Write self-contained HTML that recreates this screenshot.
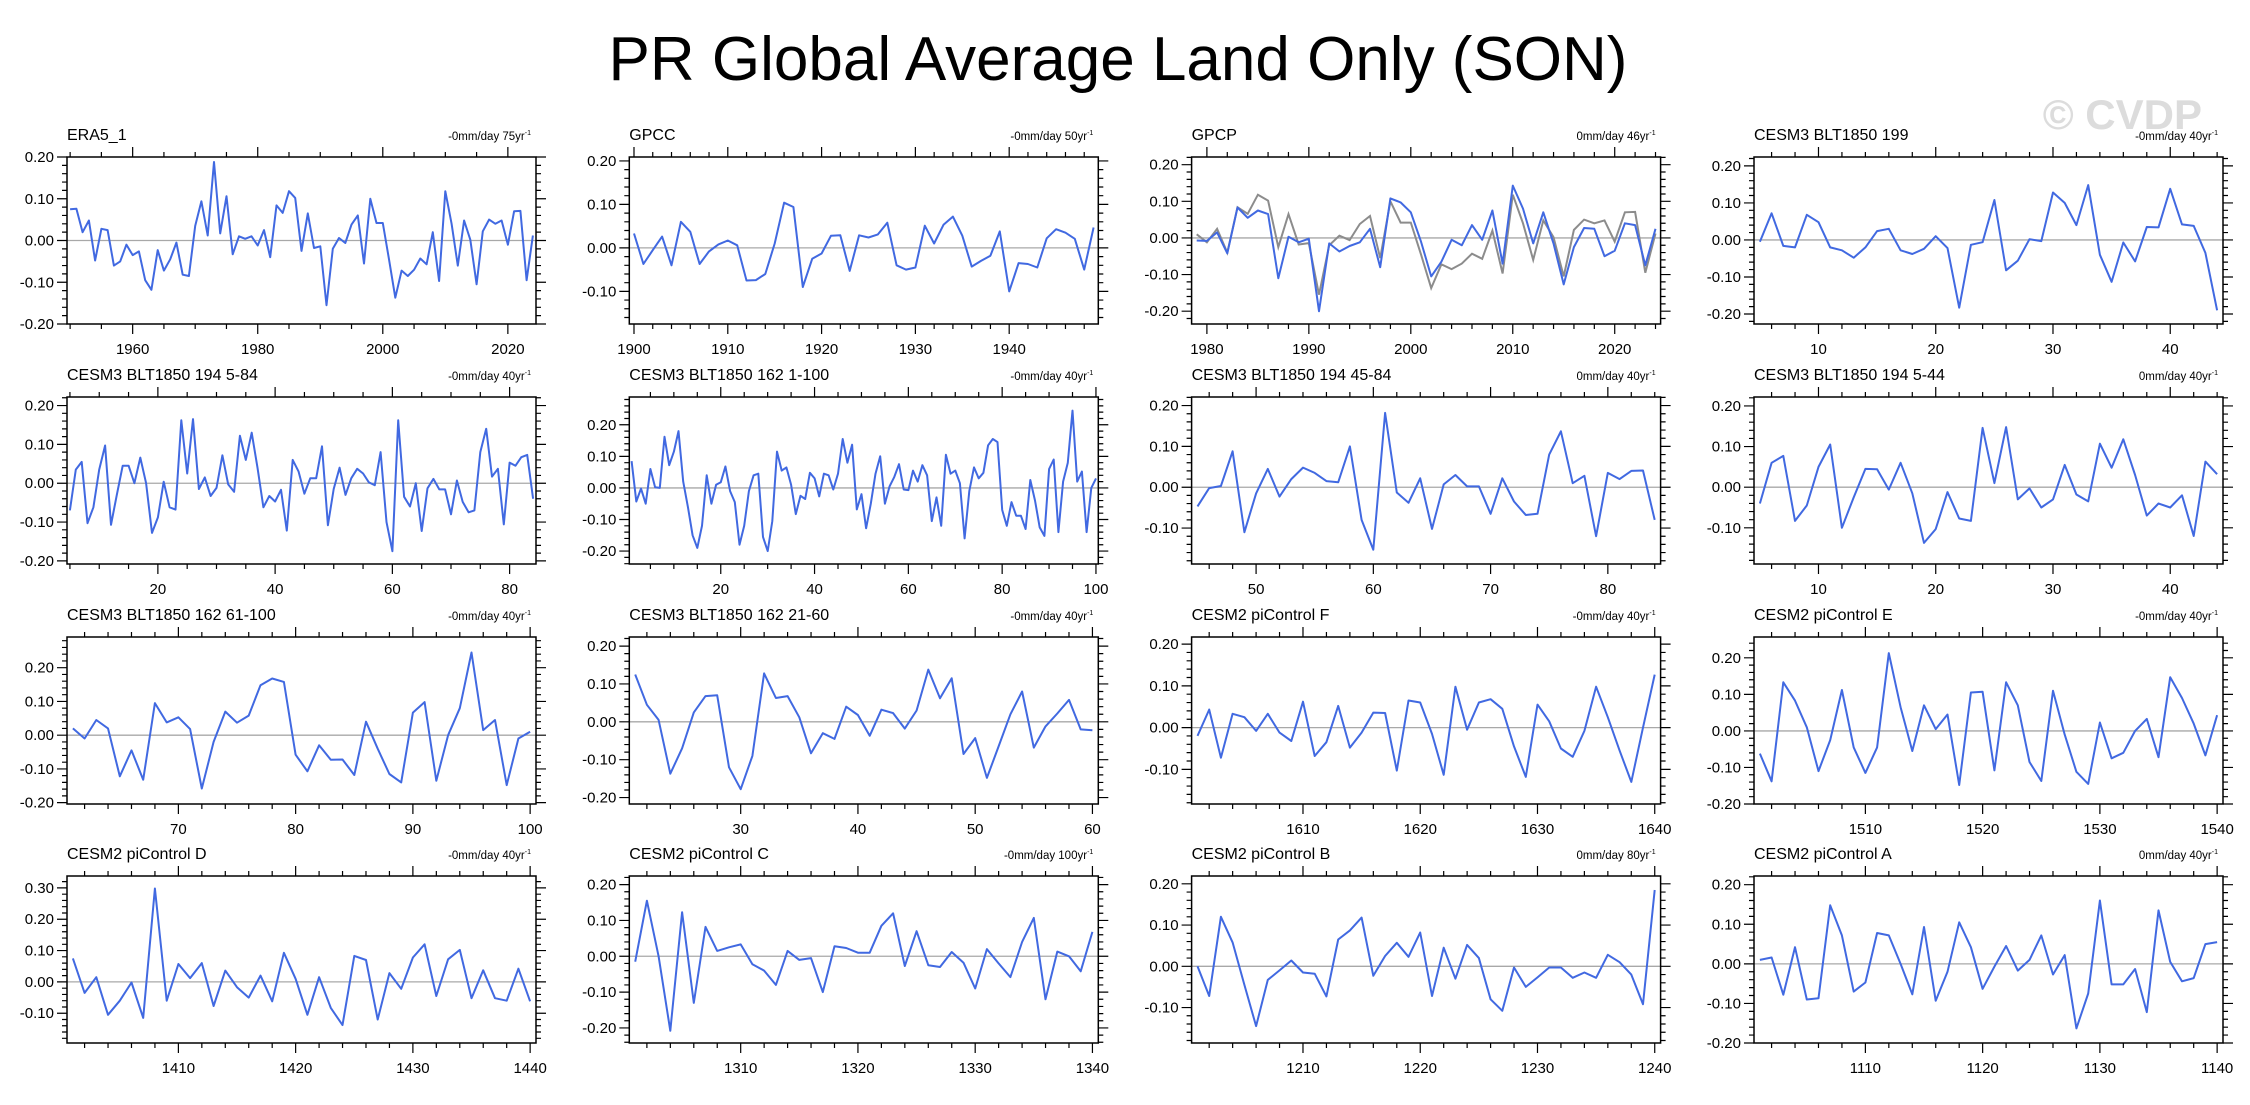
<!DOCTYPE html>
<html><head><meta charset="utf-8">
<style>
html,body{margin:0;padding:0;background:#fff;}
svg{display:block;font-family:"Liberation Sans",Arial,sans-serif;}
</style></head>
<body>
<svg id="chart" width="2250" height="1105" viewBox="0 0 2250 1105" xmlns="http://www.w3.org/2000/svg">
<rect x="0" y="0" width="2250" height="1105" fill="#fff"/>
<text x="1118" y="80" font-size="62" text-anchor="middle" fill="#000">PR Global Average Land Only (SON)</text>
<text x="2202" y="129" font-size="42" font-weight="bold" text-anchor="end" fill="#dcdcdc">© CVDP</text>
<g id="panels"></g>
</svg>
<script>
const era5Values=[0.075,0.076,0.02,0.048,-0.048,0.028,0.025,-0.06,-0.05,-0.01,-0.035,-0.026,-0.095,-0.118,-0.023,-0.072,-0.045,-0.005,-0.082,-0.085,0.035,0.094,0.012,0.188,0.017,0.106,-0.033,0.01,0.004,0.01,-0.012,0.025,-0.04,0.084,0.066,0.118,0.102,-0.025,0.065,-0.018,-0.014,-0.155,-0.02,0.006,-0.006,0.038,0.06,-0.055,0.1,0.042,0.042,-0.045,-0.137,-0.072,-0.085,-0.07,-0.043,-0.057,0.02,-0.097,0.118,0.04,-0.06,0.048,0.002,-0.105,0.022,0.05,0.04,0.048,-0.01,0.07,0.071,-0.095,0.012];
const gpccValues=[0.033,-0.037,-0.005,0.026,-0.04,0.06,0.037,-0.037,-0.008,0.008,0.017,0.006,-0.075,-0.074,-0.06,0.01,0.104,0.094,-0.09,-0.025,-0.013,0.028,0.029,-0.053,0.029,0.024,0.031,0.058,-0.04,-0.05,-0.045,0.051,0.01,0.053,0.072,0.028,-0.043,-0.03,-0.018,0.038,-0.1,-0.035,-0.037,-0.045,0.022,0.043,0.035,0.021,-0.05,0.047];
const gpcpValues=[-0.007,-0.008,0.015,-0.042,0.083,0.055,0.075,0.065,-0.11,0.003,-0.012,-0.002,-0.2,-0.015,-0.037,-0.022,-0.012,0.025,-0.08,0.108,0.097,0.07,-0.01,-0.105,-0.065,-0.005,-0.02,0.035,-0.005,0.075,-0.07,0.143,0.08,-0.015,0.07,-0.015,-0.127,-0.025,0.027,0.025,-0.05,-0.035,0.04,0.035,-0.075,0.025];
const blt199Values=[-0.005,0.072,-0.016,-0.02,0.068,0.048,-0.02,-0.028,-0.048,-0.02,0.024,0.03,-0.028,-0.038,-0.024,0.01,-0.022,-0.183,-0.013,-0.006,0.108,-0.082,-0.056,0.002,-0.003,0.128,0.1,0.04,0.148,-0.04,-0.113,-0.007,-0.058,0.035,0.034,0.138,0.042,0.038,-0.035,-0.19];
const blt194_5_84Values=[-0.07,0.035,0.055,-0.103,-0.062,0.035,0.097,-0.107,-0.03,0.045,0.045,0.0,0.066,0.0,-0.128,-0.088,0.004,-0.062,-0.068,0.162,0.025,0.165,-0.015,0.015,-0.033,-0.012,0.072,-0.003,-0.022,0.122,0.06,0.13,0.04,-0.062,-0.033,-0.047,-0.017,-0.122,0.06,0.03,-0.027,0.013,0.013,0.095,-0.108,-0.015,0.04,-0.03,0.013,0.037,0.025,0.002,-0.005,0.08,-0.1,-0.175,0.162,-0.035,-0.06,0.0,-0.123,-0.013,0.011,-0.016,-0.016,-0.08,0.007,-0.048,-0.075,-0.07,0.08,0.14,0.017,0.037,-0.106,0.053,0.045,0.067,0.073,-0.04];
const blt162_1_100Values=[0.085,-0.043,-0.002,-0.05,0.06,0.002,0.0,0.162,0.072,0.115,0.18,0.02,-0.06,-0.15,-0.19,-0.12,0.04,-0.05,0.01,0.018,0.068,-0.01,-0.045,-0.18,-0.12,-0.01,0.04,0.045,-0.155,-0.2,-0.105,0.115,0.055,0.065,0.01,-0.083,-0.025,-0.035,0.048,0.03,-0.027,0.045,0.04,-0.005,0.045,0.155,0.08,0.137,-0.068,-0.02,-0.128,-0.05,0.045,0.1,-0.05,0.005,0.035,0.075,-0.005,-0.007,0.055,0.02,0.072,0.04,-0.105,-0.03,-0.12,0.105,0.045,0.055,0.015,-0.16,-0.01,0.065,0.03,0.048,0.135,0.155,0.145,-0.07,-0.12,-0.045,-0.088,-0.088,-0.13,0.025,-0.04,-0.125,-0.152,0.06,0.09,-0.14,0.02,0.08,0.245,0.02,0.052,-0.14,0.0,0.03];
const blt194_45_84Values=[-0.047,-0.002,0.003,0.088,-0.11,-0.015,0.045,-0.023,0.02,0.048,0.035,0.015,0.012,0.1,-0.08,-0.153,0.182,-0.013,-0.038,0.022,-0.102,0.007,0.03,0.002,0.002,-0.065,0.022,-0.035,-0.068,-0.065,0.08,0.137,0.01,0.028,-0.12,0.035,0.02,0.04,0.041,-0.08];
const blt194_5_44Values=[-0.04,0.06,0.077,-0.083,-0.045,0.05,0.105,-0.1,-0.025,0.045,0.044,-0.006,0.06,-0.015,-0.137,-0.103,-0.012,-0.077,-0.083,0.146,0.01,0.148,-0.03,-0.003,-0.05,-0.03,0.055,-0.018,-0.035,0.107,0.048,0.118,0.03,-0.07,-0.04,-0.05,-0.02,-0.12,0.063,0.032];
const blt162_61_100Values=[0.02,-0.01,0.045,0.02,-0.122,-0.045,-0.132,0.095,0.038,0.053,0.018,-0.158,-0.02,0.07,0.037,0.058,0.148,0.168,0.158,-0.058,-0.107,-0.03,-0.073,-0.072,-0.118,0.04,-0.04,-0.115,-0.14,0.067,0.098,-0.135,0.0,0.08,0.245,0.015,0.045,-0.148,-0.01,0.01];
const blt162_21_60Values=[0.125,0.045,0.005,-0.137,-0.07,0.025,0.068,0.07,-0.12,-0.178,-0.09,0.128,0.063,0.068,0.012,-0.083,-0.03,-0.045,0.04,0.018,-0.037,0.032,0.023,-0.018,0.03,0.138,0.062,0.115,-0.085,-0.043,-0.148,-0.065,0.02,0.08,-0.068,-0.012,0.022,0.058,-0.02,-0.022];
const piFValues=[-0.02,0.043,-0.072,0.033,0.025,-0.008,0.033,-0.012,-0.032,0.062,-0.068,-0.035,0.052,-0.048,-0.012,0.036,0.035,-0.103,0.065,0.06,-0.015,-0.113,0.098,-0.005,0.06,0.068,0.045,-0.045,-0.118,0.055,0.015,-0.05,-0.07,-0.008,0.098,0.025,-0.055,-0.13,0.0,0.127];
const piEValues=[-0.062,-0.138,0.133,0.083,0.01,-0.11,-0.025,0.112,-0.045,-0.115,-0.045,0.213,0.065,-0.055,0.07,0.005,0.045,-0.148,0.105,0.107,-0.108,0.133,0.07,-0.085,-0.137,0.11,-0.01,-0.112,-0.145,0.023,-0.075,-0.06,0.0,0.033,-0.072,0.147,0.09,0.02,-0.067,0.043];
const piDValues=[0.075,-0.035,0.015,-0.105,-0.06,-0.002,-0.115,0.298,-0.06,0.057,0.012,0.06,-0.077,0.036,-0.017,-0.05,0.02,-0.062,0.093,0.01,-0.105,0.015,-0.083,-0.138,0.083,0.07,-0.12,0.028,-0.022,0.078,0.12,-0.045,0.072,0.102,-0.052,0.037,-0.052,-0.06,0.042,-0.062];
const piCValues=[-0.015,0.155,0.0,-0.208,0.123,-0.13,0.082,0.015,0.025,0.033,-0.022,-0.04,-0.08,0.015,-0.01,-0.005,-0.1,0.028,0.023,0.01,0.01,0.085,0.12,-0.027,0.07,-0.025,-0.03,0.012,-0.018,-0.09,0.02,-0.02,-0.058,0.04,0.107,-0.12,0.013,0.0,-0.042,0.068];
const piBValues=[0.0,-0.072,0.12,0.058,-0.045,-0.145,-0.033,-0.01,0.014,-0.015,-0.018,-0.073,0.065,0.087,0.118,-0.023,0.025,0.057,0.023,0.082,-0.072,0.045,-0.03,0.052,0.02,-0.08,-0.108,-0.003,-0.05,-0.027,-0.003,-0.003,-0.028,-0.015,-0.028,0.028,0.01,-0.02,-0.092,0.185];
const piAValues=[0.01,0.016,-0.078,0.042,-0.09,-0.087,0.148,0.072,-0.07,-0.047,0.078,0.072,0.0,-0.077,0.093,-0.093,-0.02,0.105,0.042,-0.063,-0.007,0.045,-0.017,0.01,0.072,-0.027,0.022,-0.163,-0.075,0.16,-0.052,-0.052,-0.013,-0.122,0.135,0.005,-0.044,-0.036,0.05,0.055];
const panelTitles=["ERA5_1","GPCC","GPCP","CESM3 BLT1850 199","CESM3 BLT1850 194 5-84","CESM3 BLT1850 162 1-100","CESM3 BLT1850 194 45-84","CESM3 BLT1850 194 5-44","CESM3 BLT1850 162 61-100","CESM3 BLT1850 162 21-60","CESM2 piControl F","CESM2 piControl E","CESM2 piControl D","CESM2 piControl C","CESM2 piControl B","CESM2 piControl A"];
const trendLabels=["-0mm/day 75yr","-0mm/day 50yr","0mm/day 46yr","-0mm/day 40yr","-0mm/day 40yr","-0mm/day 40yr","0mm/day 40yr","0mm/day 40yr","-0mm/day 40yr","-0mm/day 40yr","-0mm/day 40yr","-0mm/day 40yr","-0mm/day 40yr","-0mm/day 100yr","0mm/day 80yr","0mm/day 40yr"];
const startYears=[1950,1900,1979,5,5,1,45,5,61,21,1601,1501,1401,1301,1201,1101];
const seriesList=[era5Values,gpccValues,gpcpValues,blt199Values,blt194_5_84Values,blt162_1_100Values,blt194_45_84Values,blt194_5_44Values,blt162_61_100Values,blt162_21_60Values,piFValues,piEValues,piDValues,piCValues,piBValues,piAValues];
const yMins=[-0.2,-0.175,-0.235,-0.227,-0.208,-0.241,-0.188,-0.189,-0.204,-0.217,-0.183,-0.2,-0.195,-0.242,-0.186,-0.2];
const yMaxs=[0.2,0.209,0.221,0.224,0.222,0.288,0.221,0.222,0.291,0.224,0.217,0.257,0.338,0.224,0.219,0.222];

const NS="http://www.w3.org/2000/svg";
const root=document.getElementById('panels');
function mk(tag,attrs,parent){const e=document.createElementNS(NS,tag);for(const k in attrs)e.setAttribute(k,attrs[k]);(parent||root).appendChild(e);return e;}
const colLeft=[67,629.3,1191.6,1754], rowTop=[157,397,637,876], PW=469, PH=167;

seriesList.forEach((vals,i)=>{
  const L=colLeft[i%4], T=rowTop[Math.floor(i/4)], R=L+PW, B=T+PH;
  const g=mk('g',{});
  
  
  const x0=startYears[i]-0.5, x1=startYears[i]+vals.length-1+0.5;
  const ymin=yMins[i], ymax=yMaxs[i];
  const xs=v=>L+(v-x0)/(x1-x0)*PW;
  const ys=v=>B-(v-ymin)/(ymax-ymin)*PH;
  const n=vals.length;
  const maj=n>=75?20:10, mnr=n>=75?5:2;
  const t=mk('text',{x:L,y:T-17,'font-size':16,fill:'#000'},g);t.textContent=panelTitles[i];
  
  
  const s=mk('text',{x:R-5,y:T-17,'font-size':11.5,'text-anchor':'end',fill:'#000'},g);
  s.textContent=trendLabels[i];
  const sup=mk('tspan',{dy:-5,'font-size':7},s);sup.textContent='-1';
  
  
  const z=mk('line',{x1:L,x2:R,y1:ys(0),y2:ys(0),stroke:'#a8a8a8','stroke-width':1.3},g);
  
  
  let tk='';
  for(let v=Math.ceil(ymin/0.02-1e-6)*0.02; v<=ymax+1e-9; v+=0.02){
    const y=ys(v), major=Math.abs(Math.round(v*10)-v*10)<1e-6, len=major?10:5;
    tk+=`M${L} ${y}h${-len}M${R} ${y}h${len}`;
    if(major){const lb=mk('text',{x:L-13,y:y+5,'font-size':15,'text-anchor':'end',fill:'#000'},g);lb.textContent=(Math.round(v*10)/10).toFixed(2).replace('-0.00','0.00');
      
      }
  }
  for(let v=Math.ceil(x0/mnr)*mnr; v<=x1; v+=mnr){
    const x=xs(v), major=v%maj===0, len=major?10:5;
    tk+=`M${x} ${T}v${-len}M${x} ${B}v${len}`;
    if(major){const lb=mk('text',{x:x,y:B+30,'font-size':15,'text-anchor':'middle',fill:'#000'},g);lb.textContent=v;
      
      }
  }
  const tp=mk('path',{d:tk,stroke:'#000','stroke-width':1.2,fill:'none'},g);
  
  
  if(i===2){
    const off=startYears[2]-startYears[0];
    const gpts=vals.map((_,k)=>xs(startYears[2]+k).toFixed(1)+','+ys(era5Values[off+k]).toFixed(1)).join(' ');
    const gl=mk('polyline',{points:gpts,fill:'none',stroke:'#8c8c8c','stroke-width':2},g);
    
    
  }
  const pts=vals.map((v,k)=>xs(startYears[i]+k).toFixed(1)+','+ys(v).toFixed(1)).join(' ');
  const pl=mk('polyline',{points:pts,fill:'none',stroke:'#4169e1','stroke-width':2,'stroke-linejoin':'round'},g);
  
  
  const fr=mk('rect',{x:L,y:T,width:PW,height:PH,fill:'none',stroke:'#000','stroke-width':1.5},g);
  
  
});
</script>
</body></html>
